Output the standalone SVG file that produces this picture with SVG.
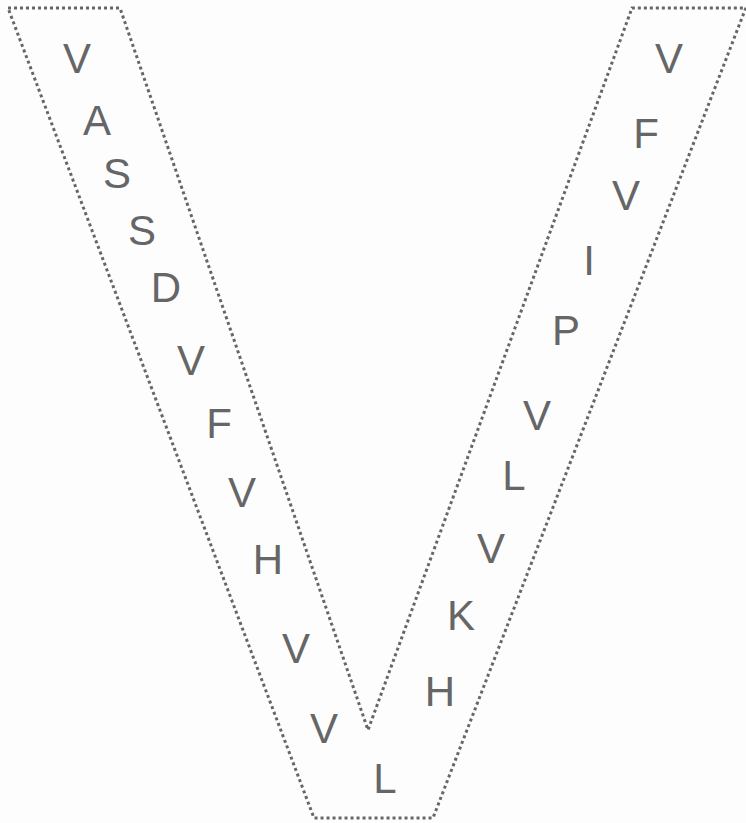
<svg xmlns="http://www.w3.org/2000/svg" width="746" height="823" viewBox="0 0 746 823">
<style>
.outline{fill:none;stroke:#666;stroke-width:3;stroke-dasharray:3 3;stroke-linejoin:miter}
.aa{font-family:"Liberation Sans",Arial,sans-serif;font-size:42px;fill:#666;text-anchor:middle}
</style>
<rect width="746" height="823" fill="#fdfdfd"/>
<g id="shape">
<path class="outline" d="M8,8 L120,8 L368,730 L632,8 L746,8 L745,10 L433,818 L314,818 Z"/>
</g>
<g id="left-arm">
<text class="aa" x="77" y="73">V</text>
<text class="aa" x="97" y="135">A</text>
<text class="aa" x="117" y="188">S</text>
<text class="aa" x="142" y="245">S</text>
<text class="aa" x="166" y="302">D</text>
<text class="aa" x="191" y="375">V</text>
<text class="aa" x="219" y="438">F</text>
<text class="aa" x="242" y="507">V</text>
<text class="aa" x="268" y="574">H</text>
<text class="aa" x="296" y="663">V</text>
<text class="aa" x="324" y="743">V</text>
</g>
<g id="right-arm">
<text class="aa" x="669" y="73">V</text>
<text class="aa" x="646" y="148">F</text>
<text class="aa" x="626" y="210">V</text>
<text class="aa" x="589" y="275">I</text>
<text class="aa" x="566" y="345">P</text>
<text class="aa" x="537" y="430">V</text>
<text class="aa" x="514" y="490">L</text>
<text class="aa" x="491" y="563">V</text>
<text class="aa" x="461" y="630">K</text>
<text class="aa" x="440" y="706">H</text>
<text class="aa" x="385" y="793">L</text>
</g>
</svg>
